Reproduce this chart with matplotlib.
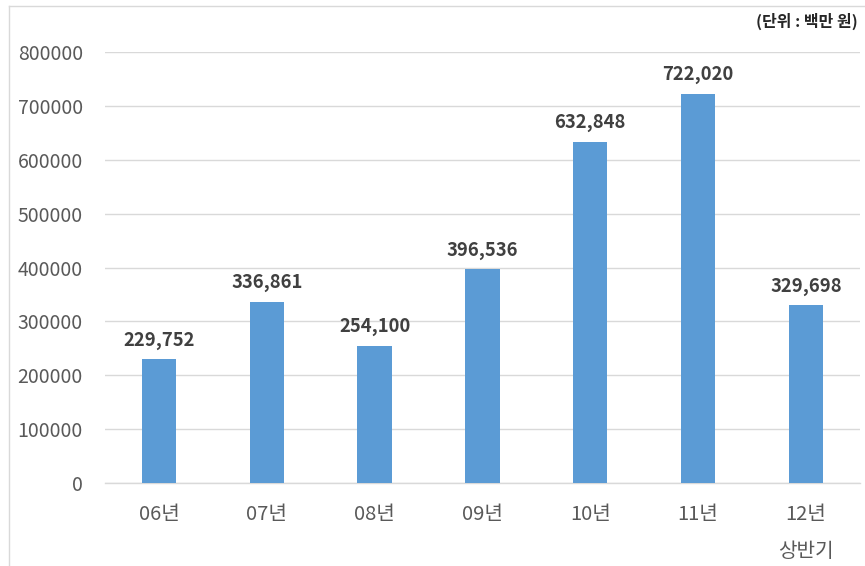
import matplotlib.pyplot as plt
from matplotlib.lines import Line2D

plt.rcParams['font.family'] = ['Noto Sans CJK KR', 'DejaVu Sans']

# 연도별 금액 (단위: 백만 원)
years = ['06년', '07년', '08년', '09년', '10년', '11년', '12년\n상반기']
amounts = [229752, 336861, 254100, 396536, 632848, 722020, 329698]
yticks = [0, 100000, 200000, 300000, 400000, 500000, 600000, 700000, 800000]

bar_color = '#5B9BD5'
grid_color = '#D9D9D9'
text_color = '#595959'

fig = plt.figure(figsize=(8.65, 5.66), dpi=100)
ax = fig.add_axes([0.1214, 0.1466, 0.8726, 0.7614])

x = range(len(years))
bars = ax.bar(x, amounts, width=0.32, color=bar_color, zorder=3)

# 막대 위 값 표시
for xi, v in zip(x, amounts):
    ax.annotate(f'{v:,}', (xi, v), xytext=(0, 7), textcoords='offset points',
                ha='center', va='bottom', fontsize=13.3, fontweight='bold',
                color='#404040')

ax.set_xlim(-0.5, len(years) - 0.5)
ax.set_ylim(0, 800000)
ax.set_yticks(yticks)
ax.set_yticklabels([str(t) for t in yticks])
ax.set_xticks(list(x))
ax.set_xticklabels(years, linespacing=2.0)

ax.grid(axis='y', color=grid_color, linewidth=1, zorder=0)
for side in ['top', 'right', 'left']:
    ax.spines[side].set_visible(False)
ax.spines['bottom'].set_color(grid_color)
ax.spines['bottom'].set_linewidth(1)
ax.tick_params(axis='both', length=0, labelcolor=text_color)
ax.tick_params(axis='y', pad=16, labelsize=14)
ax.tick_params(axis='x', pad=15, labelsize=14.5)

# 단위 표시
fig.text(0.992, 0.963, '(단위 : 백만 원)', ha='right', va='center',
         fontsize=11.5, fontweight='bold', color='#262626')

# 왼쪽/위쪽 테두리
fig.add_artist(Line2D([0.0104, 0.0104], [0, 0.989], color=grid_color, linewidth=1))
fig.add_artist(Line2D([0.0104, 1], [0.989, 0.989], color=grid_color, linewidth=1))

fig.savefig('out.png', dpi=100)
